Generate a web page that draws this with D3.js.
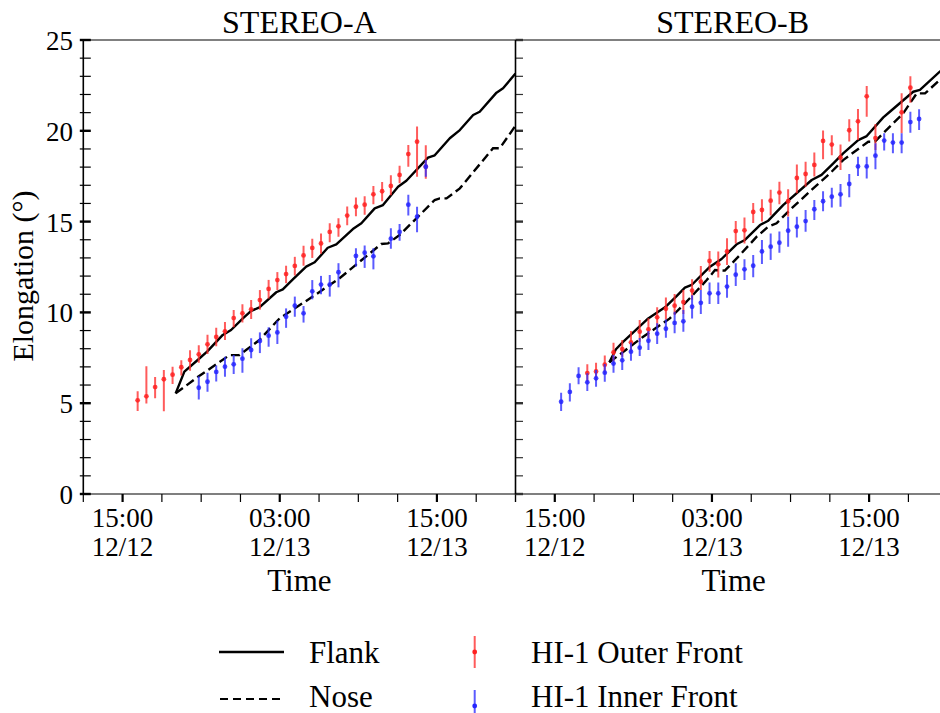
<!DOCTYPE html>
<html><head><meta charset="utf-8">
<script src="https://cdn.jsdelivr.net/npm/d3@7"></script>
<style>body{margin:0;background:#fff}svg{display:block}text{font-family:"Liberation Serif","Times New Roman",serif;fill:#000}</style>
</head><body><svg id="c" width="940" height="713"></svg>
<script>
// ---------------- DATA ----------------
const panelTitles = ["STEREO-A", "STEREO-B"];
const yTickLabels = [0, 5, 10, 15, 20, 25];
const xTickLabelTimes = ["12/12 15:00", "12/13 03:00", "12/13 15:00"];
const xDomain = ["12/12 12:00", "12/13 21:00"];

// STEREO-A, HI-1 outer front (red)
const outerATimes = ["12/12 16:09","12/12 16:49","12/12 17:29","12/12 18:09","12/12 18:49","12/12 19:29","12/12 20:09","12/12 20:49","12/12 21:29","12/12 22:09","12/12 22:49","12/12 23:29","12/13 00:09","12/13 00:49","12/13 01:29","12/13 02:09","12/13 02:49","12/13 03:29","12/13 04:09","12/13 04:49","12/13 05:29","12/13 06:09","12/13 06:49","12/13 07:29","12/13 08:09","12/13 08:49","12/13 09:29","12/13 10:09","12/13 10:49","12/13 11:29","12/13 12:09","12/13 12:49","12/13 13:29","12/13 14:09"];
const outerAValues = [5.16,5.38,5.89,6.32,6.57,6.98,7.38,7.69,8.24,8.65,8.96,9.69,9.95,10.17,10.68,11.29,11.78,12.11,12.56,13.14,13.55,13.80,14.43,14.74,15.33,15.82,15.93,16.50,16.67,16.96,17.57,18.72,19.40,18.02];
const outerAErrUp = [0.50,1.65,0.55,0.51,0.44,0.39,0.53,0.50,0.53,0.50,0.51,0.44,0.50,0.51,0.55,0.50,0.44,0.46,0.50,0.53,0.51,0.55,0.48,0.44,0.50,0.51,0.46,0.46,0.51,0.59,0.50,0.50,0.84,1.19];
const outerAErrDown = [0.59,0.39,0.62,1.76,0.51,0.46,0.59,0.46,0.53,0.51,0.48,0.51,0.50,0.53,0.53,0.53,0.55,0.50,0.53,0.57,0.55,0.57,0.57,0.57,0.53,0.53,0.55,0.55,0.55,0.51,0.46,0.70,1.93,0.66];

// STEREO-A, HI-1 inner front (blue)
const innerATimes = ["12/12 20:49","12/12 21:29","12/12 22:09","12/12 22:49","12/12 23:29","12/13 00:09","12/13 00:49","12/13 01:29","12/13 02:09","12/13 02:49","12/13 03:29","12/13 04:09","12/13 04:49","12/13 05:29","12/13 06:09","12/13 06:49","12/13 07:29","12/13 08:49","12/13 09:29","12/13 10:09","12/13 11:29","12/13 12:09","12/13 12:49","12/13 13:29","12/13 14:09"];
const innerAValues = [5.85,6.18,6.72,7.01,7.14,7.45,7.93,8.42,8.72,8.90,9.76,10.37,9.95,11.16,11.53,11.53,12.21,13.11,13.29,13.09,14.06,14.43,15.93,15.27,18.02];
const innerAErrUp = [0.64,0.50,0.35,0.55,0.51,0.57,0.64,0.48,0.46,0.64,0.46,0.50,0.40,0.62,0.48,0.53,0.50,0.42,0.39,0.44,0.57,0.44,0.55,0.55,0.37];
const innerAErrDown = [0.64,0.55,0.53,0.55,0.53,0.77,0.46,0.66,0.61,0.64,0.61,0.61,0.51,0.44,0.53,0.66,0.83,0.59,0.84,0.72,0.55,0.48,0.59,0.86,0.55];

// STEREO-A model curves
const flankATimes = ["12/12 19:03","12/12 19:43","12/12 20:44","12/12 21:27","12/12 22:39","12/12 23:17","12/13 00:11","12/13 00:49","12/13 01:27","12/13 02:44","12/13 03:14","12/13 04:00","12/13 05:01","12/13 05:40","12/13 06:40","12/13 07:19","12/13 08:35","12/13 09:14","12/13 10:15","12/13 10:53","12/13 12:02","12/13 12:40","12/13 14:19","12/13 14:50","12/13 15:59","12/13 16:45","12/13 17:46","12/13 18:16","12/13 19:33","12/13 20:03","12/13 21:00"];
const flankAValues = [5.54,6.74,7.38,7.84,8.76,9.03,9.67,10.08,10.28,11.11,11.27,11.82,12.52,12.76,13.56,13.75,14.59,14.91,15.73,15.91,16.92,17.25,18.52,18.65,19.59,20.04,20.87,21.05,22.10,22.34,23.15];
const noseATimes = ["12/12 19:03","12/12 20:44","12/12 23:10","12/12 23:55","12/13 01:27","12/13 02:59","12/13 05:31","12/13 07:34","12/13 10:45","12/13 11:16","12/13 12:09","12/13 13:26","12/13 14:50","12/13 15:13","12/13 15:44","12/13 16:45","12/13 19:17","12/13 19:48","12/13 21:00"];
const noseAValues = [5.54,6.44,7.65,7.65,8.48,9.67,10.87,11.88,13.77,13.80,14.26,15.18,16.19,16.28,16.28,16.83,19.04,19.04,20.28];

// STEREO-B, HI-1 outer front (red)
const outerBTimes = ["12/12 17:29","12/12 18:09","12/12 18:49","12/12 19:29","12/12 20:09","12/12 20:49","12/12 21:29","12/12 22:09","12/12 22:49","12/12 23:29","12/13 00:09","12/13 00:49","12/13 01:29","12/13 02:09","12/13 02:49","12/13 03:29","12/13 04:09","12/13 04:49","12/13 05:29","12/13 06:09","12/13 06:49","12/13 07:29","12/13 08:09","12/13 08:49","12/13 09:29","12/13 10:09","12/13 10:49","12/13 11:29","12/13 12:09","12/13 12:49","12/13 13:29","12/13 14:09","12/13 14:49","12/13 15:29","12/13 17:29","12/13 18:09"];
const outerBValues = [6.66,6.75,7.12,7.80,7.98,8.35,8.94,9.07,9.73,10.20,10.37,10.57,11.20,11.69,12.83,12.65,13.36,14.48,14.52,15.53,15.64,16.15,16.60,16.12,17.40,17.62,18.12,19.44,19.24,18.52,20.03,20.52,21.90,19.60,21.02,22.37];
const outerBErrUp = [0.48,0.48,0.51,0.53,0.50,0.62,0.64,0.61,0.55,0.62,0.64,0.66,0.62,0.86,0.55,0.70,0.72,0.55,0.70,0.50,0.59,0.61,0.59,0.66,0.75,0.68,0.68,0.57,0.51,0.73,0.61,0.68,0.57,0.77,1.05,0.64];
const outerBErrDown = [0.48,0.48,0.48,0.51,0.42,0.51,0.55,0.50,0.51,0.59,0.51,0.66,0.51,0.46,0.59,0.73,0.75,0.68,0.72,0.61,0.64,0.81,0.64,0.84,0.84,0.70,0.64,1.01,0.59,0.68,0.62,1.03,1.12,0.66,1.16,0.83];

// STEREO-B, HI-1 inner front (blue)
const innerBTimes = ["12/12 15:29","12/12 16:09","12/12 16:49","12/12 17:29","12/12 18:09","12/12 18:49","12/12 19:29","12/12 20:09","12/12 20:49","12/12 21:29","12/12 22:09","12/12 22:49","12/12 23:29","12/13 00:09","12/13 00:49","12/13 01:29","12/13 02:09","12/13 02:49","12/13 03:29","12/13 04:09","12/13 04:49","12/13 05:29","12/13 06:09","12/13 06:49","12/13 07:29","12/13 08:09","12/13 08:49","12/13 09:29","12/13 10:09","12/13 10:49","12/13 11:29","12/13 12:09","12/13 12:49","12/13 13:29","12/13 14:09","12/13 14:49","12/13 15:29","12/13 16:09","12/13 16:49","12/13 17:29","12/13 18:09","12/13 18:49"];
const innerBValues = [5.08,5.62,6.50,6.15,6.37,6.68,7.18,7.36,7.84,8.06,8.44,8.83,9.10,9.42,9.51,10.31,10.53,11.05,11.05,11.42,12.08,12.37,12.57,13.36,13.62,13.84,14.50,14.72,15.03,15.68,16.12,16.37,16.50,17.07,18.04,18.04,18.63,19.46,19.35,19.35,20.48,20.65];
const innerBErrUp = [0.50,0.48,0.48,0.50,0.46,0.48,0.48,0.48,0.50,0.53,0.53,0.57,0.51,0.62,0.62,0.64,0.70,0.59,0.59,0.64,0.62,0.55,0.59,0.62,0.73,0.61,0.77,0.55,0.61,0.51,0.55,0.50,0.57,0.55,0.53,0.53,0.68,0.40,0.51,0.51,0.57,0.53];
const innerBErrDown = [0.51,0.53,0.46,0.48,0.46,0.50,0.50,0.53,0.50,0.46,0.51,0.57,0.50,0.57,0.57,0.64,0.62,0.59,0.59,0.61,0.62,0.59,0.64,0.70,0.73,0.55,0.88,0.59,0.59,0.59,0.55,0.60,0.68,0.73,0.53,0.66,0.75,0.55,0.59,0.59,0.59,0.61];

// STEREO-B model curves
const flankBTimes = ["12/12 19:10","12/12 19:40","12/12 20:14","12/12 21:07","12/12 22:08","12/12 22:54","12/12 23:25","12/13 00:18","12/13 00:56","12/13 01:27","12/13 02:51","12/13 03:44","12/13 04:53","12/13 05:31","12/13 06:40","12/13 07:18","12/13 08:26","12/13 10:37","12/13 11:22","12/13 12:16","12/13 13:01","12/13 14:10","12/13 14:49","12/13 16:05","12/13 16:35","12/13 18:22","12/13 18:53","12/13 20:24","12/13 21:00"];
const flankBValues = [7.25,7.97,8.39,8.98,9.67,10.04,10.28,10.90,11.36,11.51,12.52,12.94,13.75,13.99,14.81,15.05,15.91,17.29,17.57,18.21,18.76,19.49,19.71,20.74,21.05,22.15,22.25,23.26,23.6];
const noseBTimes = ["12/12 19:10","12/12 21:45","12/12 23:47","12/13 00:49","12/13 01:42","12/13 02:36","12/13 03:14","12/13 03:59","12/13 05:08","12/13 06:25","12/13 07:18","12/13 07:56","12/13 08:57","12/13 10:44","12/13 12:01","12/13 13:01","12/13 14:56","12/13 15:26","12/13 16:35","12/13 17:36","12/13 18:38","12/13 19:16","12/13 20:24","12/13 21:00"];
const noseBValues = [7.25,8.66,9.67,10.41,11.08,11.78,12.33,12.30,13.16,14.17,14.72,14.91,15.64,16.83,17.66,18.39,19.40,19.40,20.23,20.96,22.06,22.06,22.80,23.1];

const legendLines = ["Flank", "Nose"];
const legendMarkers = ["HI-1 Outer Front", "HI-1 Inner Front"];

// ---------------- DRAW ----------------
const parse = d3.utcParse("%m/%d %H:%M");
const svg = d3.select("#c");
svg.append("rect").attr("width", 940).attr("height", 713).attr("fill", "#fff");

const yTop = 40, yBottom = 494;
const y = d3.scaleLinear().domain([0, 25]).range([yBottom, yTop]);
const dom = xDomain.map(parse);
const panels = [
  {x: d3.scaleUtc().domain(dom).range([83.3, 515.5]), title: panelTitles[0],
   outer: [outerATimes, outerAValues, outerAErrUp, outerAErrDown],
   inner: [innerATimes, innerAValues, innerAErrUp, innerAErrDown],
   flank: [flankATimes, flankAValues], nose: [noseATimes, noseAValues], first: true},
  {x: d3.scaleUtc().domain(dom).range([515.5, 947.7]), title: panelTitles[1],
   outer: [outerBTimes, outerBValues, outerBErrUp, outerBErrDown],
   inner: [innerBTimes, innerBValues, innerBErrUp, innerBErrDown],
   flank: [flankBTimes, flankBValues], nose: [noseBTimes, noseBValues], first: false}
];

const RED_BAR = "rgba(255,45,45,0.78)", RED_DOT = "#ff2020";
const BLUE_BAR = "rgba(45,45,255,0.78)", BLUE_DOT = "#2525ff";
const minorTicks = d3.range(0, 26);
const xTicks = d3.utcHour.every(3).range(dom[0], new Date(+dom[1] + 1));
const majorX = xTickLabelTimes.map(s => +parse(s));

panels.forEach((p, pi) => {
  const [x0, x1] = p.x.range();
  const g = svg.append("g");
  const clipId = "clip" + pi;
  svg.append("clipPath").attr("id", clipId).append("rect")
    .attr("x", x0).attr("y", yTop).attr("width", Math.min(x1, 940) - x0).attr("height", yBottom - yTop);

  g.append("text").attr("x", (x0 + x1) / 2 + (pi ? 1 : 0)).attr("y", 33)
    .attr("text-anchor", "middle").style("font-size", "32px").text(p.title);

  g.append("line").attr("x1", x0).attr("x2", Math.min(x1, 940)).attr("y1", yTop).attr("y2", yTop)
    .attr("stroke", "#808080").attr("stroke-width", 2);
  g.append("line").attr("x1", x0).attr("x2", Math.min(x1, 940)).attr("y1", yBottom).attr("y2", yBottom)
    .attr("stroke", "#555").attr("stroke-width", 1.6);

  xTicks.forEach(t => {
    const major = majorX.includes(+t);
    const xx = p.x(t);
    if (xx > 940) return;
    g.append("line").attr("x1", xx).attr("x2", xx).attr("y1", yBottom).attr("y2", yBottom + 8)
      .attr("stroke", "#000").attr("stroke-width", major ? 2.2 : 1.2);
  });
  xTickLabelTimes.forEach(s => {
    const t = parse(s);
    const tx = g.append("text").attr("x", p.x(t)).attr("text-anchor", "middle").style("font-size", "27px");
    tx.append("tspan").attr("x", p.x(t)).attr("y", 527).text(d3.utcFormat("%H:%M")(t));
    tx.append("tspan").attr("x", p.x(t)).attr("y", 556).text(d3.utcFormat("%m/%d")(t));
  });
  g.append("text").attr("x", (x0 + x1) / 2 + (pi ? 2 : 0)).attr("y", 591)
    .attr("text-anchor", "middle").style("font-size", "31px").text("Time");

  if (p.first) {
    g.append("line").attr("x1", x0).attr("x2", x0).attr("y1", yTop).attr("y2", yBottom)
      .attr("stroke", "#000").attr("stroke-width", 1.6);
  }
  minorTicks.forEach(v => {
    const major = v % 5 === 0;
    g.append("line").attr("x1", p.first ? x0 - 3.5 : x0).attr("x2", x0 + 7.5)
      .attr("y1", y(v)).attr("y2", y(v))
      .attr("stroke", p.first ? "#000" : "#333").attr("stroke-width", major ? 2.4 : 1.2);
  });
  if (p.first) {
    yTickLabels.forEach(v => {
      g.append("text").attr("x", 73).attr("y", y(v) + 10).attr("text-anchor", "end")
        .style("font-size", "27px").text(v);
    });
  }

  const line = d3.line().x(d => p.x(d[0])).y(d => y(d[1]));
  const plot = g.append("g").attr("clip-path", `url(#${clipId})`);
  const flank = p.flank[0].map((s, i) => [parse(s), p.flank[1][i]]);
  const nose = p.nose[0].map((s, i) => [parse(s), p.nose[1][i]]);
  plot.append("path").attr("d", line(flank)).attr("fill", "none").attr("stroke", "#000")
    .attr("stroke-width", 2.4).attr("stroke-linejoin", "round");
  plot.append("path").attr("d", line(nose)).attr("fill", "none").attr("stroke", "#000")
    .attr("stroke-width", 2.4).attr("stroke-dasharray", "9,4.5");

  function series(arr, barColor, dotColor) {
    const [ts, vs, up, dn] = arr;
    const data = ts.map((s, i) => ({t: parse(s), v: vs[i], u: up[i], d: dn[i]}));
    const sg = plot.append("g");
    sg.selectAll("line.e").data(data).join("line")
      .attr("x1", d => p.x(d.t)).attr("x2", d => p.x(d.t))
      .attr("y1", d => y(d.v - d.d)).attr("y2", d => y(d.v + d.u))
      .attr("stroke", barColor).attr("stroke-width", 2);
    sg.selectAll("circle").data(data).join("circle")
      .attr("cx", d => p.x(d.t)).attr("cy", d => y(d.v)).attr("r", 2.4)
      .attr("fill", dotColor).attr("fill-opacity", 0.85);
  }
  series(p.outer, RED_BAR, RED_DOT);
  series(p.inner, BLUE_BAR, BLUE_DOT);
});

svg.append("line").attr("x1", 515.5).attr("x2", 515.5).attr("y1", yTop).attr("y2", yBottom)
  .attr("stroke", "#000").attr("stroke-width", 1.6);

svg.append("text").attr("transform", "translate(33,276) rotate(-90)")
  .attr("text-anchor", "middle").style("font-size", "30px").text("Elongation (°)");

const lg = svg.append("g");
lg.append("line").attr("x1", 219).attr("x2", 284).attr("y1", 652).attr("y2", 652)
  .attr("stroke", "#000").attr("stroke-width", 2.4);
lg.append("line").attr("x1", 220).attr("x2", 281).attr("y1", 699).attr("y2", 699)
  .attr("stroke", "#000").attr("stroke-width", 2.2).attr("stroke-dasharray", "8,5");
lg.append("text").attr("x", 309).attr("y", 663).style("font-size", "31px").text(legendLines[0]);
lg.append("text").attr("x", 309).attr("y", 707).style("font-size", "31px").text(legendLines[1]);
lg.append("line").attr("x1", 474.7).attr("x2", 474.7).attr("y1", 636).attr("y2", 668)
  .attr("stroke", RED_BAR).attr("stroke-width", 2);
lg.append("circle").attr("cx", 474.7).attr("cy", 652).attr("r", 2.4).attr("fill", RED_DOT);
lg.append("line").attr("x1", 474.7).attr("x2", 474.7).attr("y1", 690).attr("y2", 722)
  .attr("stroke", BLUE_BAR).attr("stroke-width", 2);
lg.append("circle").attr("cx", 474.7).attr("cy", 706).attr("r", 2.4).attr("fill", BLUE_DOT);
lg.append("text").attr("x", 531).attr("y", 663).style("font-size", "31px").text(legendMarkers[0]);
lg.append("text").attr("x", 531).attr("y", 707).style("font-size", "31px").text(legendMarkers[1]);
</script></body></html>
